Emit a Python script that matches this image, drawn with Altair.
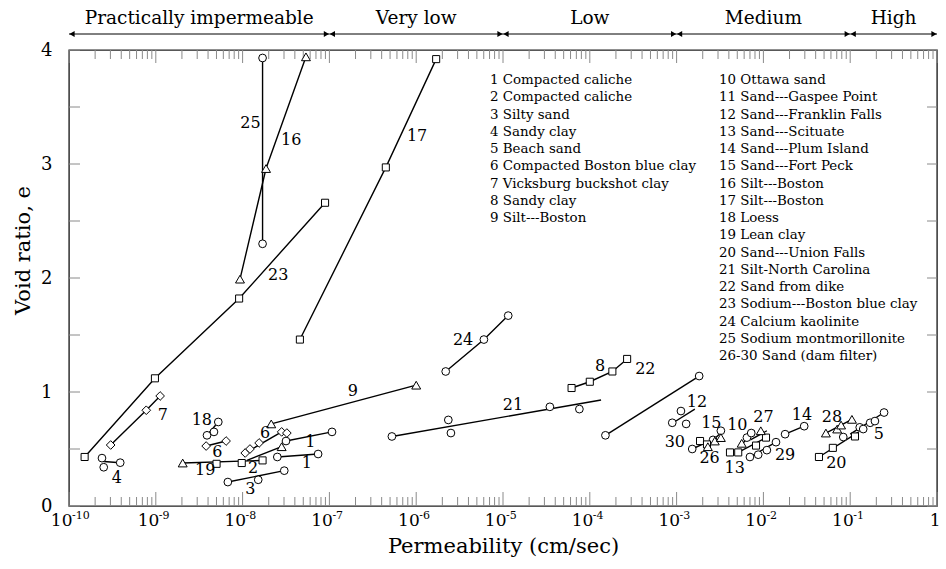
import altair as alt
import pandas as pd
import numpy as np

W, H = 868, 456
FONT = "DejaVu Serif"

# ---------------- data: log10(k [cm/s]) and void ratio e ----------------
s23_lk = [-9.82, -9.01, -8.04, -7.05]; s23_e = [0.43, 1.12, 1.82, 2.66]
s7_lk = [-9.52, -9.11, -8.95]; s7_e = [0.535, 0.84, 0.965]
s4_lk = [-9.62, -9.60, -9.41]; s4_e = [0.42, 0.34, 0.38]
s18_lk = [-8.28, -8.33, -8.41]; s18_e = [0.737, 0.65, 0.62]
s6a_lk = [-8.42, -8.19]; s6a_e = [0.526, 0.57]
s6b_lk = [-7.97, -7.915, -7.81, -7.55, -7.49]; s6b_e = [0.465, 0.50, 0.553, 0.65, 0.64]
s9_lk = [-7.67, -6.00]; s9_e = [0.72, 1.06]
s1a_lk = [-7.50, -6.97]; s1a_e = [0.57, 0.65]
s1b_lk = [-7.60, -7.13]; s1b_e = [0.43, 0.456]
s3_lk = [-8.17, -7.82, -7.52]; s3_e = [0.21, 0.23, 0.31]
s19_lk = [-8.69]; s19_e = [0.377]
s2sq_lk = [-8.30, -8.01, -7.77]; s2sq_e = [0.37, 0.377, 0.40]
s2tr_lk = [-7.55]; s2tr_e = [0.52]
s25_lk = [-7.77, -7.77]; s25_e = [3.93, 2.30]
s16_lk = [-7.27, -7.73, -8.03]; s16_e = [3.94, 2.96, 1.99]
s17_lk = [-7.34, -6.35, -5.77]; s17_e = [1.46, 2.97, 3.92]
s24_lk = [-5.66, -5.22, -4.94]; s24_e = [1.18, 1.46, 1.67]
s21_lk = [-6.28, -5.63, -5.60, -4.46, -4.12]; s21_e = [0.61, 0.755, 0.64, 0.87, 0.85]
s8_lk = [-4.21, -4.00, -3.74, -3.57]; s8_e = [1.035, 1.09, 1.18, 1.29]
s22_lk = [-3.82, -2.74]; s22_e = [0.62, 1.14]
s12_lk = [-2.95, -3.05, -2.89]; s12_e = [0.833, 0.73, 0.72]
s30sq_lk = [-2.73, -2.65]; s30sq_e = [0.57, 0.54]
s30ci_lk = [-2.82]; s30ci_e = [0.50]
s26_lk = [-2.64, -2.56]; s26_e = [0.52, 0.57]
s15ci_lk = [-2.58, -2.49]; s15ci_e = [0.58, 0.66]
s15tr_lk = [-2.49]; s15tr_e = [0.60]
s13_lk = [-2.385, -2.29, -2.085, -1.97]; s13_e = [0.47, 0.47, 0.53, 0.60]
s10tr_lk = [-2.25]; s10tr_e = [0.55]
s10ci_lk = [-2.19, -2.14]; s10ci_e = [0.60, 0.64]
s27_lk = [-2.03]; s27_e = [0.66]
s29_lk = [-2.155, -2.06, -1.96, -1.855]; s29_e = [0.43, 0.45, 0.49, 0.56]
s14_lk = [-1.75, -1.53]; s14_e = [0.63, 0.70]
s28_lk = [-1.28, -1.15, -1.105, -0.98]; s28_e = [0.64, 0.675, 0.71, 0.76]
s5_lk = [-1.08, -0.89, -0.85, -0.77, -0.715, -0.61]; s5_e = [0.605, 0.69, 0.675, 0.73, 0.745, 0.82]
s20_lk = [-1.36, -1.20, -0.945]; s20_e = [0.43, 0.51, 0.61]

marker_sets = [
    ("square", s23_lk, s23_e), ("diamond", s7_lk, s7_e), ("circle", s4_lk, s4_e),
    ("circle", s18_lk, s18_e), ("diamond", s6a_lk, s6a_e), ("diamond", s6b_lk, s6b_e),
    ("triangle-up", s9_lk, s9_e), ("circle", s1a_lk, s1a_e), ("circle", s1b_lk, s1b_e),
    ("circle", s3_lk, s3_e), ("triangle-up", s19_lk, s19_e), ("square", s2sq_lk, s2sq_e),
    ("triangle-up", s2tr_lk, s2tr_e), ("circle", s25_lk, s25_e), ("triangle-up", s16_lk, s16_e),
    ("square", s17_lk, s17_e), ("circle", s24_lk, s24_e), ("circle", s21_lk, s21_e),
    ("square", s8_lk, s8_e), ("circle", s22_lk, s22_e), ("circle", s12_lk, s12_e),
    ("square", s30sq_lk, s30sq_e), ("circle", s30ci_lk, s30ci_e), ("triangle-up", s26_lk, s26_e),
    ("circle", s15ci_lk, s15ci_e), ("triangle-up", s15tr_lk, s15tr_e), ("square", s13_lk, s13_e),
    ("triangle-up", s10tr_lk, s10tr_e), ("circle", s10ci_lk, s10ci_e), ("triangle-up", s27_lk, s27_e),
    ("circle", s29_lk, s29_e), ("circle", s14_lk, s14_e), ("triangle-up", s28_lk, s28_e),
    ("circle", s5_lk, s5_e), ("square", s20_lk, s20_e),
]

# trend lines (log10 k, e) drawn in the figure
line_sets = [
    (s23_lk, s23_e), (s7_lk, s7_e),
    ([-9.60, -9.41], [0.39, 0.38]),
    ([-8.41, -8.28], [0.62, 0.737]),
    (s6a_lk, s6a_e),
    ([-7.97, -7.55], [0.465, 0.65]),
    (s9_lk, s9_e), (s1a_lk, s1a_e), (s1b_lk, s1b_e),
    ([-8.17, -7.52], [0.21, 0.31]),
    ([-8.69, -7.77], [0.377, 0.40]),
    ([-7.95, -7.55], [0.40, 0.52]),
    (s25_lk, s25_e), (s16_lk, s16_e), (s17_lk, s17_e), (s24_lk, s24_e),
    ([-6.28, -3.87], [0.61, 0.93]),
    (s8_lk, s8_e), (s22_lk, s22_e),
    ([-3.04, -2.79], [0.73, 0.85]),
    ([-2.82, -2.65], [0.50, 0.56]),
    ([-2.64, -2.48], [0.535, 0.65]),
    ([-2.29, -1.97], [0.47, 0.60]),
    ([-2.25, -2.10], [0.54, 0.66]),
    ([-2.15, -1.96], [0.58, 0.66]),
    ([-2.155, -1.855], [0.43, 0.56]),
    (s14_lk, s14_e),
    ([-1.28, -0.98], [0.64, 0.76]),
    ([-1.00, -0.61], [0.63, 0.82]),
    ([-1.36, -0.90], [0.43, 0.65]),
]

# series number labels
label_text = ["23", "7", "4", "18", "6", "6", "9", "1", "1", "3", "19", "2", "25", "16", "17",
              "24", "21", "8", "22", "12", "30", "15", "26", "13", "10", "27", "29", "14", "28", "5", "20"]
label_lk = [-7.59, -8.92, -9.45, -8.47, -8.29, -7.74, -6.73, -7.22, -7.26, -7.91, -8.43, -7.88, -7.91, -7.44, -5.99,
            -5.46, -4.885, -3.88, -3.36, -2.765, -3.02, -2.60, -2.62, -2.33, -2.30, -2.00, -1.75, -1.555, -1.21, -0.67, -1.16]
label_e = [2.03, 0.80, 0.25, 0.755, 0.47, 0.64, 1.01, 0.56, 0.38, 0.15, 0.315, 0.33, 3.36, 3.21, 3.25,
           1.46, 0.89, 1.23, 1.20, 0.91, 0.56, 0.73, 0.42, 0.33, 0.71, 0.78, 0.45, 0.80, 0.78, 0.63, 0.38]

legend_col1 = ["1 Compacted caliche", "2 Compacted caliche", "3 Silty sand", "4 Sandy clay",
               "5 Beach sand", "6 Compacted Boston blue clay", "7 Vicksburg buckshot clay",
               "8 Sandy clay", "9 Silt---Boston"]
legend_col2 = ["10 Ottawa sand", "11 Sand---Gaspee Point", "12 Sand---Franklin Falls",
               "13 Sand---Scituate", "14 Sand---Plum Island", "15 Sand---Fort Peck",
               "16 Silt---Boston", "17 Silt---Boston", "18 Loess", "19 Lean clay",
               "20 Sand---Union Falls", "21 Silt-North Carolina", "22 Sand from dike",
               "23 Sodium---Boston blue clay", "24 Calcium kaolinite",
               "25 Sodium montmorillonite", "26-30 Sand (dam filter)"]

class_names = ["Practically impermeable", "Very low", "Low", "Medium", "High"]
class_bounds = [-10, -7, -5, -3, -1, 0]

decades = list(range(-10, 1))

# ---------------- build tables ----------------
pts = pd.DataFrame([{"k": 10.0 ** a, "e": b, "shape": s}
                    for s, lks, es in marker_sets for a, b in zip(lks, es)])
lines = pd.DataFrame([{"seg": i, "ord": j, "k": 10.0 ** a, "e": b}
                      for i, (lks, es) in enumerate(line_sets)
                      for j, (a, b) in enumerate(zip(lks, es))])
labels = pd.DataFrame({"k": [10.0 ** v for v in label_lk], "e": label_e, "t": label_text})

major = pd.DataFrame({"k": [10.0 ** d for d in decades]})
minor = pd.DataFrame({"k": [m * 10.0 ** d for d in decades[:-1] for m in range(2, 10)]})
expo = pd.DataFrame({"k": [10.0 ** d for d in decades[:-1]], "t": [str(d) for d in decades[:-1]]})
yt = pd.DataFrame({"e": np.arange(0, 4.01, 0.5)})

hdr_lines = pd.DataFrame({"k": [10.0 ** a for a in class_bounds[:-1]],
                          "k2": [10.0 ** b for b in class_bounds[1:]]})
hdr_text = pd.DataFrame({"k": [10.0 ** ((a + b) / 2) for a, b in zip(class_bounds[:-1], class_bounds[1:])],
                         "t": class_names})


def legend_df(items):
    d = pd.DataFrame({"t": items, "row": range(len(items))})
    d["e"] = 4 - (30 + 17.25 * d["row"]) / (H / 4)
    return d


leg1 = legend_df(legend_col1)
leg2 = legend_df(legend_col2)

# ---------------- encodings ----------------
xs = alt.Scale(type="log", domain=[1e-10, 1], nice=False)
ys = alt.Scale(domain=[0, 4], nice=False, zero=False)
x_axis = alt.Axis(values=[10.0 ** d for d in decades], labelExpr="datum.value >= 1 ? '1' : '10'",
                  ticks=False, tickSize=0, domain=False, grid=False, labelFont=FONT, labelFontSize=17,
                  labelColor="black", labelAlign="right", labelOffset=3, labelPadding=6,
                  title="Permeability (cm/sec)", titleFont=FONT, titleFontSize=21,
                  titleFontWeight="normal", titleColor="black", titlePadding=7, labelFlush=False)
y_axis = alt.Axis(values=[0, 1, 2, 3, 4], ticks=False, tickSize=0, domain=False, grid=False,
                  labelFont=FONT, labelFontSize=18, labelColor="black", labelPadding=17,
                  title="Void ratio, e", titleFont=FONT, titleFontSize=21, titleFontWeight="normal",
                  titleColor="black", titleX=-40, titleY=200, titleAngle=270,
                  titleBaseline="alphabetic", titleAlign="center")
X = alt.X("k:Q", scale=xs, axis=x_axis)
Y = alt.Y("e:Q", scale=ys, axis=y_axis)

layers = []

# inward ticks
TICKC = "#8a8a8a"
layers.append(alt.Chart(major).mark_rule(color=TICKC, strokeWidth=1).encode(x=X, y=alt.value(H), y2=alt.value(H - 14)))
layers.append(alt.Chart(minor).mark_rule(color=TICKC, strokeWidth=1).encode(x=X, y=alt.value(H), y2=alt.value(H - 9)))
layers.append(alt.Chart(major).mark_rule(color=TICKC, strokeWidth=1).encode(x=X, y=alt.value(0), y2=alt.value(13)))
layers.append(alt.Chart(minor).mark_rule(color=TICKC, strokeWidth=1).encode(x=X, y=alt.value(0), y2=alt.value(9)))
layers.append(alt.Chart(yt).mark_rule(color=TICKC, strokeWidth=1).encode(y=Y, x=alt.value(0), x2=alt.value(11)))
layers.append(alt.Chart(yt).mark_rule(color=TICKC, strokeWidth=1).encode(y=Y, x=alt.value(W - 10), x2=alt.value(W)))

# exponents of tick labels
layers.append(alt.Chart(expo).mark_text(font=FONT, fontSize=11, align="left", baseline="top", dx=3, color="black")
              .encode(x=X, y=alt.value(H + 4), text="t:N"))

# trend lines
layers.append(alt.Chart(lines).mark_line(color="black", strokeWidth=1.4)
              .encode(x=X, y=Y, detail="seg:N", order="ord:Q"))

# markers
sizes = {"circle": 60, "square": 50, "triangle-up": 80, "diamond": 75}
for shp, sz in sizes.items():
    sub = pts[pts["shape"] == shp]
    layers.append(alt.Chart(sub).mark_point(shape=shp, size=sz, filled=True, fill="white",
                                            stroke="black", strokeWidth=1, opacity=1)
                  .encode(x=X, y=Y))

# series labels
layers.append(alt.Chart(labels).mark_text(font=FONT, fontSize=16, color="black", baseline="middle")
              .encode(x=X, y=Y, text="t:N"))

# legend text
layers.append(alt.Chart(leg1).mark_text(font=FONT, fontSize=13.4, align="left", baseline="middle", color="black")
              .encode(x=alt.value(421), y=Y, text="t:N"))
layers.append(alt.Chart(leg2).mark_text(font=FONT, fontSize=13.4, align="left", baseline="middle", color="black")
              .encode(x=alt.value(650), y=Y, text="t:N"))

# permeability class header
layers.append(alt.Chart(hdr_lines).mark_rule(color="black", strokeWidth=1)
              .encode(x=X, x2="k2:Q", y=alt.value(-16)))
layers.append(alt.Chart(hdr_lines).mark_point(shape="triangle-left", filled=True, color="black", size=36,
                                              opacity=1, xOffset=3)
              .encode(x=X, y=alt.value(-16)))
layers.append(alt.Chart(hdr_lines).mark_point(shape="triangle-right", filled=True, color="black", size=36,
                                              opacity=1, xOffset=-3)
              .encode(x=alt.X("k2:Q", scale=xs, axis=x_axis), y=alt.value(-16)))
layers.append(alt.Chart(hdr_text).mark_text(font=FONT, fontSize=18.5, color="black", baseline="alphabetic")
              .encode(x=X, y=alt.value(-26), text="t:N"))

chart = (alt.layer(*layers)
         .properties(width=W, height=H, background="white",
                     autosize=alt.AutoSizeParams(type="none"),
                     padding={"left": 69, "top": 50, "right": 9, "bottom": 63})
         .configure_view(stroke="#222", strokeWidth=1.4))

chart.save("out.html", embed_options={"renderer": "svg", "actions": False})
